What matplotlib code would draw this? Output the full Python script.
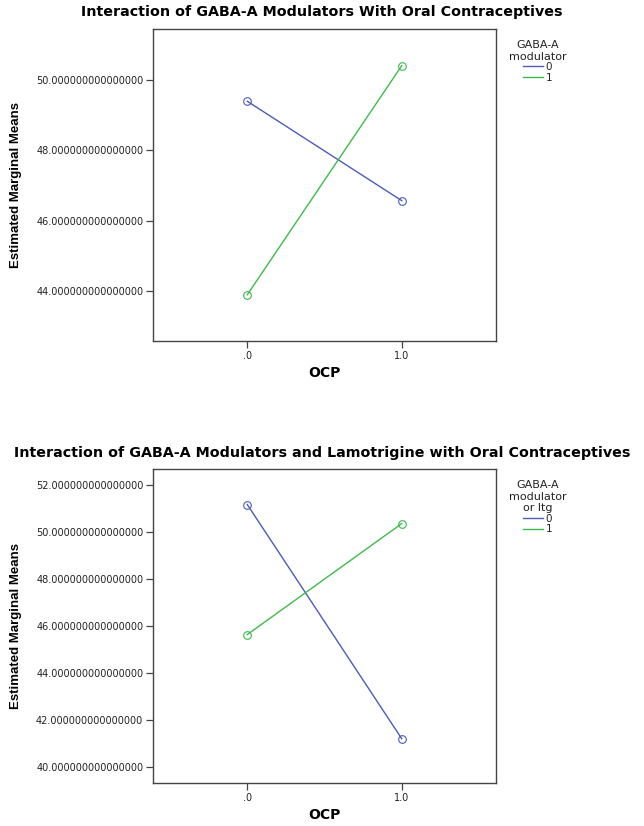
import matplotlib
matplotlib.use("Agg")
import matplotlib.pyplot as plt
from matplotlib.lines import Line2D
from matplotlib.ticker import FixedLocator, FuncFormatter

plt.rcParams["font.family"] = ["DejaVu Sans"]

BLUE = "#4a5cbb"; GREEN = "#3dba4c"; FRAME = "#444444"; TXT = "#222222"

# data
ocp = [0.0, 1.0]
groups = ["0", "1"]
top_means = {"0": [49.39, 46.57], "1": [43.90, 50.40]}
bot_means = {"0": [51.18, 41.22], "1": [45.65, 50.37]}
top_yticks = [44, 46, 48, 50]
bot_yticks = [40, 42, 44, 46, 48, 50, 52]
xtick_labels = [".0", "1.0"]

fig = plt.figure(figsize=(6.44, 8.26), dpi=100, facecolor="white")

def panel(rect, means, yticks, ylim, title, leg_title, leg_anchor, title_y):
    ax = fig.add_axes(rect)
    for g, c in zip(groups, [BLUE, GREEN]):
        ax.plot(ocp, means[g], color=c, lw=1.0, marker="o", ms=5.5, mfc="none",
                mec=c, mew=0.8)
    ax.set_xlim(-0.61, 1.61)
    ax.set_ylim(*ylim)
    ax.yaxis.set_major_locator(FixedLocator(yticks))
    ax.yaxis.set_major_formatter(FuncFormatter(lambda v, p: "%.15f" % v))
    ax.set_xticks(ocp)
    ax.set_xticklabels(xtick_labels)
    ax.tick_params(direction="out", length=5, width=0.9, color=FRAME,
                   labelsize=7, labelcolor=TXT, pad=2)
    ax.tick_params(axis="x", pad=2)
    for s in ax.spines.values():
        s.set_color(FRAME); s.set_linewidth(1.0)
    ax.set_xlabel("OCP", fontsize=10, fontweight="bold", labelpad=4)
    ax.set_ylabel("Estimated Marginal Means", fontsize=9.5, fontweight="bold",
                  family="Liberation Sans", labelpad=10)
    fig.text(0.5, title_y, title, ha="center", va="center", fontsize=10.3,
             fontweight="bold", color="black")
    handles = [Line2D([], [], color=c, lw=1.0) for c in [BLUE, GREEN]]
    leg = ax.legend(handles, groups, title=leg_title, loc="upper center",
                    bbox_to_anchor=leg_anchor, bbox_transform=fig.transFigure,
                    frameon=False, fontsize=7.5, title_fontsize=8,
                    handlelength=1.9, handletextpad=0.25, labelspacing=0.05,
                    borderpad=0, alignment="center")
    leg.get_title().set_color(TXT)
    leg.get_title().set_multialignment("center")
    for t in leg.get_texts():
        t.set_color(TXT)
    return ax

panel([0.2376, 0.5872, 0.5326, 0.3777], top_means, top_yticks, (42.59, 51.44),
      "Interaction of GABA-A Modulators With Oral Contraceptives",
      "GABA-A\nmodulator", (0.835, 0.958), 0.985)
panel([0.2376, 0.0521, 0.5326, 0.3801], bot_means, bot_yticks, (39.34, 52.69),
      "Interaction of GABA-A Modulators and Lamotrigine with Oral Contraceptives",
      "GABA-A\nmodulator\nor ltg", (0.835, 0.425), 0.452)

plt.savefig("out.png", dpi=100, facecolor="white")
